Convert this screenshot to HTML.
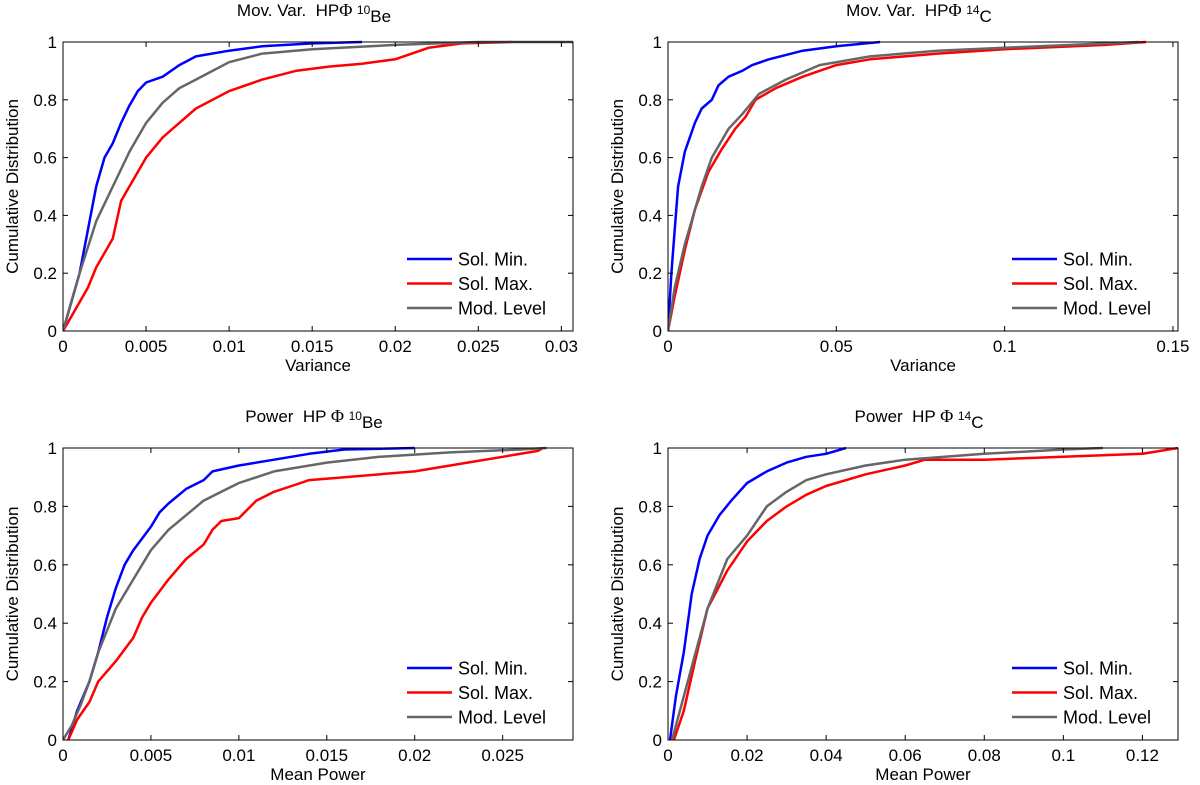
<!DOCTYPE html>
<html><head><meta charset="utf-8"><style>
body{margin:0;background:#fff;}
svg{display:block;font-family:"Liberation Sans",sans-serif;}
</style></head><body>
<svg id="chart" width="1200" height="785"></svg>
<script>
// Panel 1: variance 10Be
const p1Blue=[[0,0],[0.0005,0.1],[0.001,0.2],[0.0015,0.35],[0.002,0.5],[0.0025,0.6],[0.003,0.65],[0.0035,0.72],[0.004,0.78],[0.0045,0.83],[0.005,0.86],[0.006,0.88],[0.007,0.92],[0.008,0.95],[0.01,0.97],[0.012,0.985],[0.015,0.995],[0.018,1]];
const p1Gray=[[0,0],[0.001,0.2],[0.002,0.38],[0.003,0.5],[0.004,0.62],[0.005,0.72],[0.006,0.79],[0.007,0.84],[0.008,0.87],[0.009,0.9],[0.01,0.93],[0.012,0.96],[0.015,0.975],[0.02,0.99],[0.025,1],[0.0307,1]];
const p1Red=[[0,0],[0.0005,0.05],[0.001,0.1],[0.0015,0.15],[0.002,0.22],[0.0025,0.27],[0.003,0.32],[0.0035,0.45],[0.004,0.5],[0.005,0.6],[0.006,0.67],[0.007,0.72],[0.008,0.77],[0.009,0.8],[0.01,0.83],[0.012,0.87],[0.014,0.9],[0.016,0.915],[0.018,0.925],[0.02,0.94],[0.021,0.96],[0.022,0.98],[0.024,0.995],[0.027,1]];
// Panel 2: variance 14C
const p2Blue=[[0,0],[0.001,0.2],[0.002,0.35],[0.003,0.5],[0.005,0.62],[0.008,0.72],[0.01,0.77],[0.013,0.8],[0.015,0.85],[0.018,0.88],[0.022,0.9],[0.025,0.92],[0.03,0.94],[0.04,0.97],[0.05,0.985],[0.063,1]];
const p2Gray=[[0,0],[0.002,0.15],[0.005,0.3],[0.01,0.5],[0.013,0.6],[0.018,0.7],[0.022,0.75],[0.027,0.82],[0.035,0.87],[0.045,0.92],[0.06,0.95],[0.08,0.97],[0.1,0.98],[0.12,0.99],[0.14,1]];
const p2Red=[[0,0],[0.002,0.12],[0.005,0.28],[0.008,0.42],[0.012,0.55],[0.016,0.63],[0.02,0.7],[0.023,0.74],[0.026,0.8],[0.032,0.84],[0.04,0.88],[0.05,0.92],[0.06,0.94],[0.08,0.96],[0.1,0.975],[0.13,0.99],[0.142,1]];
// Panel 3: power 10Be
const p3Blue=[[0.0003,0],[0.0008,0.1],[0.0015,0.2],[0.002,0.3],[0.0025,0.42],[0.003,0.52],[0.0035,0.6],[0.004,0.65],[0.005,0.73],[0.0055,0.78],[0.006,0.81],[0.007,0.86],[0.008,0.89],[0.0085,0.92],[0.01,0.94],[0.012,0.96],[0.014,0.98],[0.016,0.995],[0.02,1]];
const p3Gray=[[0,0],[0.0005,0.05],[0.001,0.12],[0.0015,0.2],[0.002,0.3],[0.003,0.45],[0.004,0.55],[0.005,0.65],[0.006,0.72],[0.007,0.77],[0.008,0.82],[0.009,0.85],[0.01,0.88],[0.012,0.92],[0.015,0.95],[0.018,0.97],[0.022,0.985],[0.026,0.995],[0.0275,1]];
const p3Red=[[0.0003,0],[0.0008,0.07],[0.0015,0.13],[0.002,0.2],[0.003,0.27],[0.004,0.35],[0.0045,0.42],[0.005,0.47],[0.006,0.55],[0.007,0.62],[0.008,0.67],[0.0085,0.72],[0.009,0.75],[0.01,0.76],[0.011,0.82],[0.012,0.85],[0.013,0.87],[0.014,0.89],[0.016,0.9],[0.02,0.92],[0.023,0.95],[0.025,0.97],[0.027,0.99],[0.0273,1]];
// Panel 4: power 14C
const p4Blue=[[0.0005,0],[0.002,0.15],[0.004,0.3],[0.006,0.5],[0.008,0.62],[0.01,0.7],[0.013,0.77],[0.016,0.82],[0.02,0.88],[0.025,0.92],[0.03,0.95],[0.035,0.97],[0.04,0.98],[0.045,1]];
const p4Gray=[[0.001,0],[0.003,0.1],[0.006,0.25],[0.01,0.45],[0.015,0.62],[0.02,0.7],[0.025,0.8],[0.03,0.85],[0.035,0.89],[0.04,0.91],[0.05,0.94],[0.06,0.96],[0.08,0.98],[0.1,0.995],[0.11,1]];
const p4Red=[[0.0015,0],[0.004,0.1],[0.007,0.28],[0.01,0.45],[0.015,0.58],[0.02,0.68],[0.025,0.75],[0.03,0.8],[0.035,0.84],[0.04,0.87],[0.05,0.91],[0.06,0.94],[0.065,0.96],[0.08,0.96],[0.1,0.97],[0.12,0.98],[0.129,1]];
const yTicks=[0,0.2,0.4,0.6,0.8,1];
const yTickLabels=["0","0.2","0.4","0.6","0.8","1"];
const xTicks1=[0,0.005,0.01,0.015,0.02,0.025,0.03];
const xTickLabels1=["0","0.005","0.01","0.015","0.02","0.025","0.03"];
const xTicks2=[0,0.05,0.1,0.15];
const xTickLabels2=["0","0.05","0.1","0.15"];
const xTicks3=[0,0.005,0.01,0.015,0.02,0.025];
const xTickLabels3=["0","0.005","0.01","0.015","0.02","0.025"];
const xTicks4=[0,0.02,0.04,0.06,0.08,0.1,0.12];
const xTickLabels4=["0","0.02","0.04","0.06","0.08","0.1","0.12"];
const legendLabels=["Sol. Min.","Sol. Max.","Mod. Level"];

const NS="http://www.w3.org/2000/svg";
const svg=document.getElementById('chart');
function mk(tag,attrs,parent){const e=document.createElementNS(NS,tag);for(const k in attrs)e.setAttribute(k,attrs[k]);(parent||svg).appendChild(e);return e;}

const panels=[
 {x0:63,x1:573,y0:42,y1:331,xmax:0.0307,ticks:xTicks1,labels:xTickLabels1,xlabel:"Variance",t1:"Mov. Var.  HP",iso:"10",el:"Be",series:[p1Blue,p1Red,p1Gray],name:"panel-var-10be"},
 {x0:668,x1:1178,y0:42,y1:331,xmax:0.1515,ticks:xTicks2,labels:xTickLabels2,xlabel:"Variance",t1:"Mov. Var.  HP",iso:"14",el:"C",series:[p2Blue,p2Red,p2Gray],name:"panel-var-14c"},
 {x0:63,x1:573,y0:448,y1:740,xmax:0.0290,ticks:xTicks3,labels:xTickLabels3,xlabel:"Mean Power",t1:"Power  HP ",iso:"10",el:"Be",series:[p3Blue,p3Red,p3Gray],name:"panel-power-10be"},
 {x0:668,x1:1178,y0:448,y1:740,xmax:0.129,ticks:xTicks4,labels:xTickLabels4,xlabel:"Mean Power",t1:"Power  HP ",iso:"14",el:"C",series:[p4Blue,p4Red,p4Gray],name:"panel-power-14c"}
];
const colors=["#0000ff","#ff0000","#666666"];
const snames=["sol-min-line","sol-max-line","mod-level-line"];

panels.forEach(p=>{
 const g=mk('g',{});
 
 
 const sx=v=>p.x0+v/p.xmax*(p.x1-p.x0);
 const sy=v=>p.y1-v*(p.y1-p.y0);
 const clipId='c'+p.name;
 const cp=mk('clipPath',{id:clipId},g);
 mk('rect',{x:p.x0,y:p.y0-2,width:p.x1-p.x0,height:p.y1-p.y0+4},cp);
 p.series.forEach((s,i)=>{
  const d=s.map((pt,j)=>(j?'L':'M')+sx(pt[0]).toFixed(1)+','+sy(pt[1]).toFixed(1)).join('');
  const path=mk('path',{d:d,fill:'none',stroke:colors[i],'stroke-width':2.5,'stroke-linejoin':'round','clip-path':'url(#'+clipId+')'},g);
  
  
 });
 // legend (no border)
 const lg=mk('g',{},g);
 
 
 mk('rect',{x:p.x1-172,y:p.y1-86,width:171,height:85,fill:'#fff'},lg);
 legendLabels.forEach((L,i)=>{
  const y=p.y1-72+i*24.5;
  const e=mk('g',{},lg);
  
  
  mk('line',{x1:p.x1-166,x2:p.x1-121,y1:y,y2:y,stroke:colors[i],'stroke-width':2.5},e);
  const t=mk('text',{x:p.x1-115,y:y+6.5,'font-size':18},e);t.textContent=L;
 });
 const box=mk('rect',{x:p.x0,y:p.y0,width:p.x1-p.x0,height:p.y1-p.y0,fill:'none',stroke:'#000','stroke-width':1},g);
 
 
 p.ticks.forEach((t,i)=>{
  const x=sx(t);
  mk('line',{x1:x,x2:x,y1:p.y1,y2:p.y1-5,stroke:'#000'},g);
  mk('line',{x1:x,x2:x,y1:p.y0,y2:p.y0+5,stroke:'#000'},g);
  const tx=mk('text',{x:x,y:p.y1+21,'font-size':17,'text-anchor':'middle'},g);
  tx.textContent=p.labels[i];
  
  
 });
 yTicks.forEach((t,i)=>{
  const y=sy(t);
  mk('line',{x1:p.x0,x2:p.x0+5,y1:y,y2:y,stroke:'#000'},g);
  mk('line',{x1:p.x1,x2:p.x1-5,y1:y,y2:y,stroke:'#000'},g);
  const tx=mk('text',{x:p.x0-6,y:y+6,'font-size':17,'text-anchor':'end'},g);
  tx.textContent=yTickLabels[i];
  
  
 });
 const xl=mk('text',{x:(p.x0+p.x1)/2,y:p.y1+40,'font-size':17,'text-anchor':'middle'},g);
 xl.textContent=p.xlabel;
 
 
 const yl=mk('text',{x:0,y:0,'font-size':17,'text-anchor':'middle',transform:'translate('+(p.x0-45)+','+((p.y0+p.y1)/2)+') rotate(-90)'},g);
 yl.textContent="Cumulative Distribution";
 
 
 const ti=mk('text',{x:(p.x0+p.x1)/2-4,y:p.y0-26,'font-size':17,'text-anchor':'middle','xml:space':'preserve',style:'white-space:pre'},g);
 
 
 const a=mk('tspan',{},ti);a.textContent=p.t1;
 const f=mk('tspan',{style:'font-family:"Liberation Serif",serif','font-size':18},ti);f.textContent="Φ ";
 const b=mk('tspan',{'font-size':12,dy:-2},ti);b.textContent=p.iso;
 const c=mk('tspan',{'font-size':17,dy:8},ti);c.textContent=p.el;
});
</script>
</body></html>
